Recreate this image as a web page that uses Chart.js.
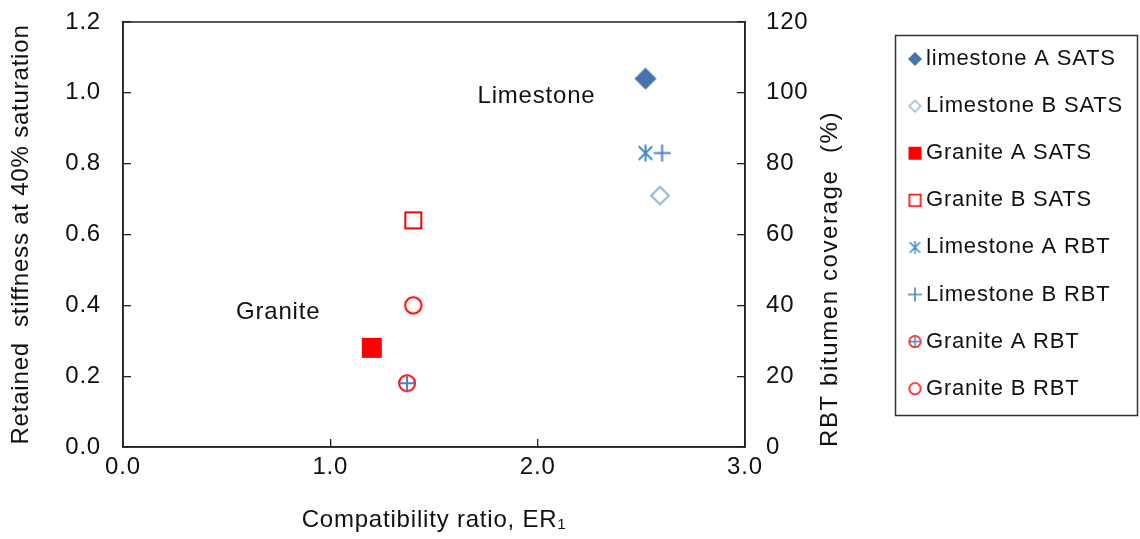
<!DOCTYPE html>
<html>
<head>
<meta charset="utf-8">
<script src="https://cdn.jsdelivr.net/npm/chart.js@4/dist/chart.umd.min.js"></script>
<style>
html,body{margin:0;padding:0;background:#ffffff;}
canvas{display:block;}
</style>
</head>
<body>
<canvas id="c" width="1140" height="539" style="width:1140px;height:539px"></canvas>
<script>
// ---------------- data ----------------
const seriesNames = ['limestone A SATS','Limestone B SATS','Granite A SATS','Granite B SATS',
                     'Limestone A RBT','Limestone B RBT','Granite A RBT','Granite B RBT'];
const seriesX = [[2.52],[2.59],[1.20],[1.40],[2.52],[2.60],[1.37],[1.40]];
const seriesY = [[1.04],[0.71],[0.28],[0.64],[83],[83],[18],[40]];
const seriesAxis = ['y','y','y','y','y2','y2','y2','y2'];
const xRange = [0, 3, 1];        // min, max, step
const yLeftRange = [0, 1.2, 0.2];
const yRightRange = [0, 120, 20];
const xTitle = 'Compatibility ratio, ER\u2081';
const yLeftTitle = 'Retained  stiffness at 40% saturation';
const yRightTitle = 'RBT bitumen coverage  (%)';
const annotationLabels = ['Limestone','Granite'];
const annotationX = [1.71, 0.545];
const annotationY = [0.99, 0.381];

// ---------------- styles ----------------
const FONT = '"Liberation Sans", Arial, sans-serif';
const TEXT = '#111111';
const LS = '0.8px';
Chart.defaults.font.family = FONT;
Chart.defaults.color = TEXT;

const markerKinds = ['diamondFill','diamondOpen','squareFill','squareOpen','asterisk','plus','circlePlus','circleOpen'];
const markerColors = ['#4673AC','#95B3D7','#FF0000','#FF0000','#3E8ED0','#4F81BD','#FF0000','#FF0000'];
const bigSizes = [11, 9.8, 10, 9, 8.5, 8.5, 9, 9.2];
const smallSizes = [7, 6.5, 6.5, 6.5, 6.5, 7, 6.5, 6.5];

function makeMarker(kind, color, s, lw) {
  const pad = 3;
  const size = Math.ceil(2 * s + 2 * pad);
  const cv = document.createElement('canvas');
  cv.width = size; cv.height = size;
  const g = cv.getContext('2d');
  g.translate(size / 2, size / 2);
  g.lineWidth = lw;
  g.strokeStyle = color;
  g.fillStyle = color;
  g.beginPath();
  switch (kind) {
    case 'diamondFill':
      g.moveTo(0, -s); g.lineTo(s, 0); g.lineTo(0, s); g.lineTo(-s, 0); g.closePath(); g.fill();
      break;
    case 'diamondOpen': {
      const r = s - lw / 2;
      g.moveTo(0, -r); g.lineTo(r, 0); g.lineTo(0, r); g.lineTo(-r, 0); g.closePath(); g.stroke();
      break; }
    case 'squareFill':
      g.rect(-s, -s, 2 * s, 2 * s); g.fill();
      break;
    case 'squareOpen': {
      const r = s - lw / 2;
      g.rect(-r, -r, 2 * r, 2 * r); g.stroke();
      break; }
    case 'asterisk': {
      const d = s * 0.8;
      g.moveTo(0, -s); g.lineTo(0, s);
      g.moveTo(-d, -d); g.lineTo(d, d);
      g.moveTo(-d, d); g.lineTo(d, -d);
      g.stroke();
      break; }
    case 'plus':
      g.moveTo(0, -s); g.lineTo(0, s); g.moveTo(-s, 0); g.lineTo(s, 0); g.stroke();
      break;
    case 'circlePlus': {
      const r = s - lw / 2;
      g.arc(0, 0, r, 0, Math.PI * 2); g.stroke();
      g.beginPath();
      g.strokeStyle = '#4F81BD';
      g.moveTo(0, -r); g.lineTo(0, r); g.moveTo(-r, 0); g.lineTo(r, 0); g.stroke();
      break; }
    case 'circleOpen': {
      const r = s - lw / 2;
      g.arc(0, 0, r, 0, Math.PI * 2); g.stroke();
      break; }
  }
  return cv;
}
const bigMarkers = markerKinds.map((k, i) => makeMarker(k, markerColors[i], bigSizes[i], 2));
const smallMarkers = markerKinds.map((k, i) => makeMarker(k, markerColors[i], smallSizes[i], 1.6));

// ---------------- plugins ----------------
const spacingPlugin = {
  id: 'spacing',
  beforeUpdate(chart) { chart.ctx.letterSpacing = LS; },
  beforeLayout(chart) { chart.ctx.letterSpacing = LS; },
  beforeDraw(chart) { chart.ctx.letterSpacing = LS; }
};

const framePlugin = {
  id: 'frame',
  afterDraw(chart) {
    const {ctx, chartArea: a} = chart;
    ctx.save();
    ctx.strokeStyle = '#222';
    ctx.lineWidth = 1.5;
    ctx.strokeRect(a.left, a.top, a.right - a.left, a.bottom - a.top);
    ctx.restore();
  }
};

const textPlugin = {
  id: 'texts',
  afterDraw(chart) {
    const {ctx, chartArea: a, scales} = chart;
    ctx.save();
    ctx.letterSpacing = LS;
    ctx.fillStyle = TEXT;
    // annotations in data coordinates
    ctx.font = '24px ' + FONT;
    ctx.textAlign = 'left';
    ctx.textBaseline = 'middle';
    annotationLabels.forEach((t, i) => {
      ctx.fillText(t, scales.x.getPixelForValue(annotationX[i]), scales.y.getPixelForValue(annotationY[i]));
    });
    // right axis title (reads bottom to top)
    const y2 = scales.y2;
    ctx.save();
    ctx.translate(y2.right - 10, a.bottom);
    ctx.rotate(-Math.PI / 2);
    ctx.letterSpacing = '1.6px';
    ctx.textAlign = 'left';
    ctx.textBaseline = 'middle';
    ctx.fillText(yRightTitle, 0, 0);
    ctx.restore();
    // legend
    const lx = 895.5, ly = 35.5, lw = 242, lh = 380;
    ctx.strokeStyle = '#333';
    ctx.lineWidth = 1.5;
    ctx.strokeRect(lx, ly, lw, lh);
    ctx.font = '22px ' + FONT;
    ctx.textAlign = 'left';
    ctx.textBaseline = 'middle';
    chart.data.datasets.forEach((ds, i) => {
      const cy = 59 + i * 47.1;
      const m = smallMarkers[i];
      ctx.drawImage(m, 915 - m.width / 2, cy - m.height / 2);
      ctx.fillText(ds.label, 926, cy);
    });
    ctx.restore();
  }
};

// ---------------- chart ----------------
const tickFont = {size: 24};
const gridOpts = {drawOnChartArea: false, tickLength: -8, color: '#222', lineWidth: 1.3};
const borderOpts = {color: '#222', width: 1.5};
function noPad(s) { s.paddingTop = 0; s.paddingBottom = 0; s.paddingLeft = 0; s.paddingRight = 0; }

new Chart(document.getElementById('c'), {
  type: 'scatter',
  data: {
    datasets: seriesNames.map((n, i) => ({
      label: n,
      data: seriesX[i].map((x, j) => ({x: x, y: seriesY[i][j]})),
      yAxisID: seriesAxis[i],
      pointStyle: bigMarkers[i],
      pointRadius: 10,
      pointHoverRadius: 10,
      showLine: false
    }))
  },
  options: {
    responsive: false,
    animation: false,
    events: [],
    layout: {padding: {left: 0, right: 300, top: 22, bottom: 0}},
    plugins: {legend: {display: false}, tooltip: {enabled: false}},
    scales: {
      x: {
        type: 'linear', position: 'bottom',
        min: xRange[0], max: xRange[1],
        ticks: {stepSize: xRange[2], callback: v => Number(v).toFixed(1), padding: 14, color: TEXT, font: tickFont, maxRotation: 0, autoSkip: false},
        grid: gridOpts, border: borderOpts,
        title: {display: true, text: xTitle, color: TEXT, font: {size: 24}, padding: {top: 0, bottom: 4}},
        afterFit(s) { s.height = 92; noPad(s); }
      },
      y: {
        type: 'linear', position: 'left',
        min: yLeftRange[0], max: yLeftRange[1],
        ticks: {stepSize: yLeftRange[2], callback: v => Number(v).toFixed(1), padding: 30, color: TEXT, font: tickFont, autoSkip: false},
        grid: gridOpts, border: borderOpts,
        title: {display: true, text: yLeftTitle, color: TEXT, font: {size: 24}, padding: {top: 7, bottom: 0}},
        afterFit(s) { s.width = 123; noPad(s); }
      },
      y2: {
        type: 'linear', position: 'right',
        min: yRightRange[0], max: yRightRange[1],
        ticks: {stepSize: yRightRange[2], callback: v => String(Math.round(v)), padding: 29, color: TEXT, font: tickFont, autoSkip: false},
        grid: gridOpts, border: borderOpts,
        title: {display: false},
        afterFit(s) { s.width = 95; noPad(s); }
      }
    }
  },
  plugins: [spacingPlugin, framePlugin, textPlugin]
});
</script>
</body>
</html>
